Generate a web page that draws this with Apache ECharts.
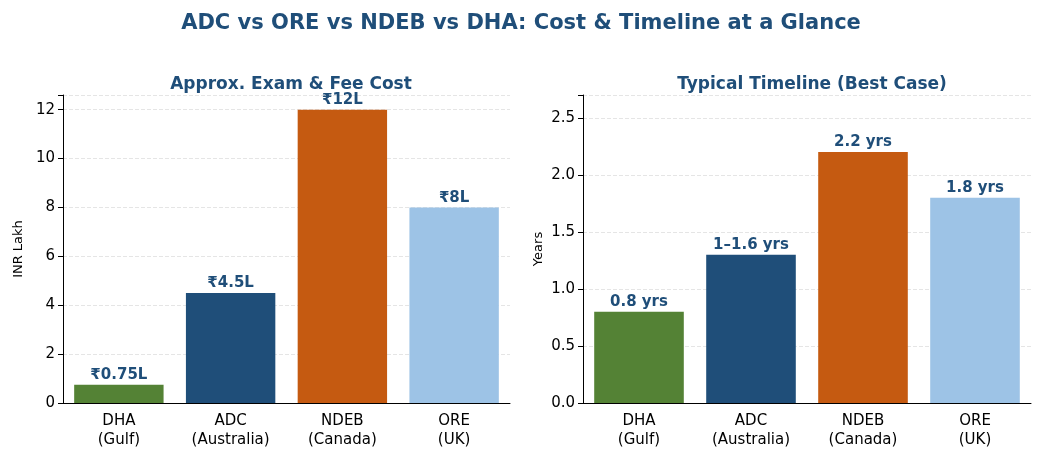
<!DOCTYPE html>
<html>
<head>
<meta charset="utf-8">
<script src="https://cdn.jsdelivr.net/npm/echarts@6/dist/echarts.min.js"></script>
<style>html,body{margin:0;padding:0;background:#fff}#c{width:1042px;height:458px}</style>
</head>
<body>
<div id="c"></div>
<script>
const categories = ['DHA\n(Gulf)', 'ADC\n(Australia)', 'NDEB\n(Canada)', 'ORE\n(UK)'];
const costValues = [0.75, 4.5, 12, 8];
const costLabels = ['₹0.75L', '₹4.5L', '₹12L', '₹8L'];
const timeValues = [0.8, 1.3, 2.2, 1.8];
const timeLabels = ['0.8 yrs', '1–1.6 yrs', '2.2 yrs', '1.8 yrs'];
const colors = ['#548235', '#1f4e79', '#c55a11', '#9dc3e6'];

const font = 'DejaVu Sans';
const navy = '#1f4e79';

function xAxis(idx) {
  return {
    type: 'category', gridIndex: idx, data: categories,
    axisLine: { lineStyle: { color: '#000' } },
    axisTick: { alignWithLabel: true, lineStyle: { color: '#000' } },
    axisLabel: { color: '#000', fontSize: 15, fontFamily: font, lineHeight: 19, margin: 9 }
  };
}
function yAxis(idx, max, interval, name, fmt) {
  return {
    type: 'value', gridIndex: idx, min: 0, max: max, interval: interval,
    name: name, nameLocation: 'middle', nameGap: 38,
    nameTextStyle: { color: '#000', fontSize: 13, fontFamily: font },
    axisLine: { show: true, lineStyle: { color: '#000' } },
    axisTick: { show: true, lineStyle: { color: '#000' } },
    axisLabel: {
      color: '#000', fontSize: 15, fontFamily: font,
      formatter: v => (Math.abs(v - max) < 1e-9 && max % interval !== 0) ? '' : fmt(v)
    },
    splitLine: { lineStyle: { color: '#e5e5e5', type: 'dashed' } }
  };
}
function series(idx, values, labels) {
  return {
    type: 'bar', xAxisIndex: idx, yAxisIndex: idx, barWidth: '80%',
    data: values.map((v, i) => ({ value: v, itemStyle: { color: colors[i] } })),
    label: {
      show: true, position: 'top', distance: 2, color: navy, fontWeight: 'bold',
      fontSize: 15, fontFamily: font, formatter: p => labels[p.dataIndex]
    }
  };
}

const chart = echarts.init(document.getElementById('c'));
chart.setOption({
  animation: false,
  title: [
    { text: 'ADC vs ORE vs NDEB vs DHA: Cost & Timeline at a Glance', left: 'center', top: 8,
      textStyle: { color: navy, fontSize: 21, fontWeight: 'bold', fontFamily: font } },
    { text: 'Approx. Exam & Fee Cost', left: 286, top: 71, textAlign: 'center',
      textStyle: { color: navy, fontSize: 17, fontWeight: 'bold', fontFamily: font } },
    { text: 'Typical Timeline (Best Case)', left: 807, top: 71, textAlign: 'center',
      textStyle: { color: navy, fontSize: 17, fontWeight: 'bold', fontFamily: font } }
  ],
  grid: [
    { left: 63, top: 95, width: 447, height: 308 },
    { left: 583, top: 95, width: 448, height: 308 }
  ],
  xAxis: [xAxis(0), xAxis(1)],
  yAxis: [
    yAxis(0, 12.6, 2, 'INR Lakh', v => String(v)),
    yAxis(1, 2.7, 0.5, 'Years', v => v.toFixed(1))
  ],
  series: [series(0, costValues, costLabels), series(1, timeValues, timeLabels)]
});
</script>
</body>
</html>
